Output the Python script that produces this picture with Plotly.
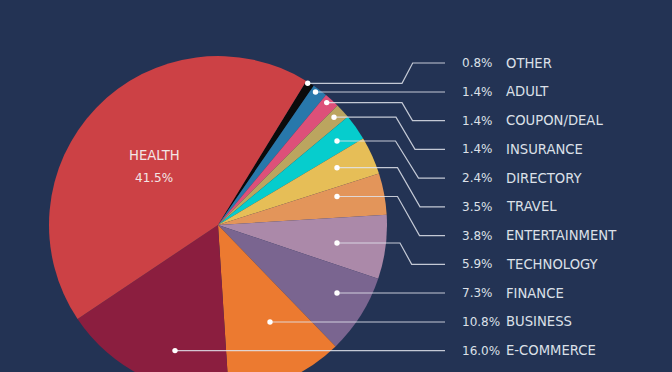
import plotly.graph_objects as go

# ---- data (clockwise order starting from the thin black slice) ----
categories = ["OTHER", "ADULT", "COUPON/DEAL", "INSURANCE", "DIRECTORY", "TRAVEL",
              "ENTERTAINMENT", "TECHNOLOGY", "FINANCE", "BUSINESS", "E-COMMERCE", "HEALTH"]
values = [0.8, 1.4, 1.4, 1.4, 2.4, 3.5, 3.8, 5.9, 7.3, 10.8, 16.0, 41.5]

# ---- styling ----
colors = ["#0B0B0B", "#2878AB", "#DD5079", "#BBA55F", "#06CDCD", "#E6BE57",
          "#E3955A", "#AB89A9", "#7A6590", "#EC7A30", "#8B1E3F", "#CC4145"]
BG = "#233354"
TXT = "#DCE0E8"
W, H = 672, 400          # canvas taller than window; bottom of pie is cropped
CX, CY, R = 218, 225, 169
FONT = "DejaVu Sans"
FS_PCT, FS_LAB = 12.0, 13.2

# leader anchors (pixel positions of the dots) and elbow x positions, per labelled slice
anchors = [(307.7, 83.3), (315.5, 92.0), (326.7, 102.6), (334.0, 117.2), (337, 141.0),
           (337, 167.7), (337, 196.5), (337, 243.0), (337, 293.0), (270, 322.0), (175, 350.6)]
elbows = [(402, 412.7), None, (402, 412.5), (396, 415), (395.5, 418.5), (397.5, 420),
          (397.5, 419.5), (400, 411.7), None, None, None]
ROW0, ROWSTEP = 63.0, 28.77
LINE_END = 445
PCT_X, LAB_X = 460, 504
LINE_COLOR = "rgba(225,228,236,0.85)"
DOT_R = 2.7

fig = go.Figure()

fig.add_trace(go.Pie(
    labels=categories, values=values, sort=False, direction="clockwise",
    rotation=31.5, textinfo="none", hoverinfo="label+percent",
    marker=dict(colors=colors, line=dict(width=0)),
    domain=dict(x=[(CX - R) / W, (CX + R) / W], y=[(H - (CY + R)) / H, (H - (CY - R)) / H]),
    showlegend=False,
))

# leader lines and dots drawn above the pie, on a pixel-scaled axis
for i, (cat, (ax, ay)) in enumerate(zip(categories[:-1], anchors)):
    ry = ROW0 + i * ROWSTEP
    if elbows[i] is None:
        path = f"M {ax},{ay} L {LINE_END},{ay}"
    else:
        e0, e1 = elbows[i]
        path = f"M {ax},{ay} L {e0},{ay} L {e1},{ry} L {LINE_END},{ry}"
    fig.add_shape(type="path", path=path, xref="x", yref="y", layer="above",
                  line=dict(color=LINE_COLOR, width=1.2))
    fig.add_shape(type="circle", xref="x", yref="y", layer="above",
                  x0=ax - DOT_R, x1=ax + DOT_R, y0=ay - DOT_R, y1=ay + DOT_R,
                  fillcolor="white", line=dict(width=0))
    fig.add_annotation(x=PCT_X, y=ry, text=f"{values[i]:.1f}%", showarrow=False,
                       xanchor="left", yanchor="middle", xref="x", yref="y",
                       font=dict(family=FONT, size=FS_PCT, color=TXT))
    fig.add_annotation(x=LAB_X, y=ry, text=cat, showarrow=False,
                       xanchor="left", yanchor="middle", xref="x", yref="y",
                       font=dict(family=FONT, size=FS_LAB, color=TXT))

# label inside the largest slice
fig.add_annotation(x=154, y=155, text=categories[-1], showarrow=False, xref="x", yref="y",
                   font=dict(family=FONT, size=FS_LAB, color="#F3E6E6"))
fig.add_annotation(x=154, y=178, text=f"{values[-1]:.1f}%", showarrow=False, xref="x", yref="y",
                   font=dict(family=FONT, size=FS_PCT, color="#F3E6E6"))

fig.update_layout(
    width=W, height=H, margin=dict(l=0, r=0, t=0, b=0),
    paper_bgcolor=BG, plot_bgcolor="rgba(0,0,0,0)",
    xaxis=dict(range=[0, W], visible=False, fixedrange=True),
    yaxis=dict(range=[H, 0], visible=False, fixedrange=True),
)

fig.write_html("out.html", config={"displayModeBar": False},
               post_script="document.body.style.margin='0';document.body.style.overflow='hidden';"
                           "document.documentElement.style.overflow='hidden';"
                           "document.body.style.background='" + BG + "';")
